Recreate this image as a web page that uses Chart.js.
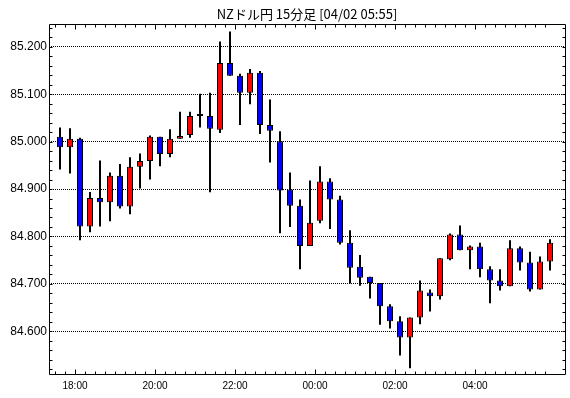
<!DOCTYPE html>
<html><head><meta charset="utf-8">
<script src="https://cdn.jsdelivr.net/npm/chart.js@4.4.1/dist/chart.umd.min.js"></script>
<style>html,body{margin:0;padding:0;background:#fff;} canvas{display:block;}</style>
</head><body>
<canvas id="c" width="570" height="398"></canvas>
<script>
const chartTitle = 'NZドル円 15分足 [04/02 05:55]';
const times = ['17:30','17:45','18:00','18:15','18:30','18:45','19:00','19:15','19:30','19:45',
  '20:00','20:15','20:30','20:45','21:00','21:15','21:30','21:45','22:00','22:15',
  '22:30','22:45','23:00','23:15','23:30','23:45','00:00','00:15','00:30','00:45',
  '01:00','01:15','01:30','01:45','02:00','02:15','02:30','02:45','03:00','03:15',
  '03:30','03:45','04:00','04:15','04:30','04:45','05:00','05:15','05:30','05:45'];
const opens  = [85.010,84.988,85.006,84.821,84.881,84.872,84.928,84.863,84.947,84.959,
  85.010,84.974,85.006,85.014,85.054,85.054,85.025,85.166,85.139,85.103,
  85.145,85.035,85.001,84.899,84.865,84.780,84.833,84.916,84.878,84.787,
  84.736,84.715,84.702,84.653,84.621,84.587,84.629,84.682,84.674,84.752,
  84.804,84.771,84.779,84.731,84.707,84.695,84.775,84.745,84.688,84.747];
const highs  = [85.030,85.028,85.008,84.894,84.960,84.935,84.953,84.967,84.975,85.013,
  85.010,85.026,85.063,85.063,85.101,85.103,85.211,85.232,85.143,85.153,
  85.149,85.089,85.022,84.935,84.878,84.918,84.948,84.923,84.886,84.813,
  84.761,84.715,84.702,84.657,84.632,84.629,84.707,84.688,84.754,84.806,
  84.823,84.781,84.787,84.737,84.731,84.792,84.779,84.768,84.758,84.794];
const lows   = [84.941,84.933,84.792,84.809,84.821,84.832,84.859,84.847,84.901,84.920,
  84.948,84.967,85.006,85.008,85.030,84.893,85.018,85.139,85.035,85.079,
  85.016,84.956,84.807,84.820,84.731,84.780,84.828,84.816,84.783,84.701,
  84.696,84.669,84.614,84.606,84.549,84.522,84.615,84.642,84.667,84.750,
  84.771,84.731,84.714,84.659,84.686,84.695,84.728,84.684,84.688,84.728];
const closes = [84.988,85.006,84.821,84.881,84.872,84.928,84.863,84.947,84.959,85.010,
  84.974,85.006,85.012,85.054,85.054,85.027,85.166,85.139,85.103,85.145,
  85.035,85.023,84.897,84.865,84.780,84.829,84.916,84.878,84.787,84.734,
  84.713,84.702,84.653,84.621,84.587,84.629,84.686,84.674,84.754,84.804,
  84.771,84.779,84.731,84.707,84.695,84.775,84.745,84.688,84.747,84.787];
const xTickLabels = ['18:00','20:00','22:00','00:00','02:00','04:00'];
const yTickValues = [84.6,84.7,84.8,84.9,85.0,85.1,85.2];
const yMinorStep = 0.02;

const UP = '#ff0000', DOWN = '#0000ff';

const frameTicks = {
  id: 'frameTicks',
  afterDatasetsDraw(chart) {
    const {ctx, chartArea: a, scales: {x, y}} = chart;
    ctx.save();
    ctx.strokeStyle = '#000';
    ctx.lineWidth = 1;
    ctx.setLineDash([]);
    ctx.beginPath();
    const L = Math.round(a.left) + 0.5, R = Math.round(a.right) + 0.5;
    const T = Math.round(a.top) + 0.5, B = Math.round(a.bottom) + 0.5;
    ctx.moveTo(L, T); ctx.lineTo(R, T); ctx.lineTo(R, B); ctx.lineTo(L, B); ctx.closePath();
    // x ticks at bar start edges
    const majors = xTickLabels.map(l => times.indexOf(l) - 0.5);
    for (let i = 0; i < times.length; i++) {
      const v = i - 0.5;
      const px = Math.round(x.getPixelForValue(v)) + 0.5;
      const len = majors.includes(v) ? 5 : 3;
      ctx.moveTo(px, B); ctx.lineTo(px, B - len);
      ctx.moveTo(px, T); ctx.lineTo(px, T + len);
    }
    // y minor ticks
    const start = Math.ceil(y.min / yMinorStep - 1e-9);
    const end = Math.floor(y.max / yMinorStep + 1e-9);
    for (let k = start; k <= end; k++) {
      const v = k * yMinorStep;
      const py = Math.round(y.getPixelForValue(v)) + 0.5;
      if (py <= T + 1 || py >= B - 1) continue;
      ctx.moveTo(L, py); ctx.lineTo(L + 3, py);
      ctx.moveTo(R, py); ctx.lineTo(R - 3, py);
    }
    ctx.stroke();
    ctx.restore();
  }
};

new Chart(document.getElementById('c'), {
  type: 'bar',
  data: {
    datasets: [
      {
        label: 'wick',
        data: times.map((t, i) => ({x: i, y: [lows[i], highs[i]]})),
        backgroundColor: '#000',
        borderWidth: 0,
        barThickness: 2,
        grouped: false,
        inflateAmount: 0,
        order: 2
      },
      {
        label: 'body',
        data: times.map((t, i) => ({x: i, y: [opens[i], closes[i]]})),
        backgroundColor: c => {
          const i = c.dataIndex;
          return closes[i] > opens[i] ? UP : (closes[i] < opens[i] ? DOWN : '#000');
        },
        borderColor: '#000',
        borderWidth: 1,
        borderSkipped: false,
        barThickness: 6,
        minBarLength: 2,
        grouped: false,
        inflateAmount: 0,
        order: 1
      }
    ]
  },
  options: {
    responsive: false,
    animation: false,
    devicePixelRatio: 1,
    layout: {padding: {left: 0, right: 5, top: 0, bottom: 0}},
    plugins: {
      legend: {display: false},
      tooltip: {enabled: false},
      title: {
        display: true, text: chartTitle, fullSize: false, color: '#000',
        font: {family: '"Noto Sans CJK JP"', size: 13, weight: 'normal', lineHeight: '15px'},
        padding: {top: 7, bottom: 2}
      }
    },
    scales: {
      x: {
        type: 'linear', min: -1.1, max: 50.5, offset: false,
        grid: {display: false, drawTicks: false},
        border: {display: false},
        afterBuildTicks: s => { s.ticks = xTickLabels.map(l => ({value: times.indexOf(l) - 0.5})); },
        ticks: {
          callback: v => times[Math.round(v + 0.5)],
          font: {family: '"Liberation Sans"', size: 10}, color: '#000',
          padding: 6, maxRotation: 0, autoSkip: false
        },
        afterFit: s => { s.height = 24; }
      },
      y: {
        min: 84.51, max: 85.248,
        grid: {color: '#000', lineWidth: 1, drawTicks: false},
        border: {display: false, dash: [1, 1]},
        afterBuildTicks: s => { s.ticks = yTickValues.map(v => ({value: v})); },
        ticks: {
          callback: v => v.toFixed(3),
          font: {family: '"Liberation Sans"', size: 12}, color: '#000', padding: 2
        },
        afterFit: s => { s.width = 49; }
      }
    }
  },
  plugins: [frameTicks]
});
</script>
</body></html>
